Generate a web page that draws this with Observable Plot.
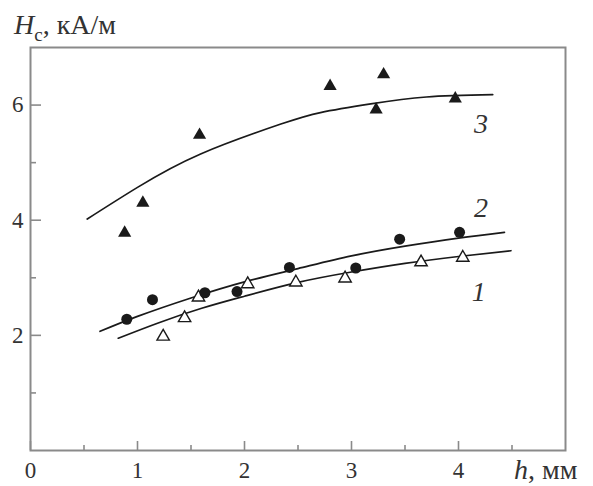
<!DOCTYPE html>
<html><head><meta charset="utf-8">
<script src="https://cdn.jsdelivr.net/npm/d3@7"></script>
<script src="https://cdn.jsdelivr.net/npm/@observablehq/plot@0.6"></script>
<style>body{margin:0;background:#fff} svg text{font-family:"Liberation Serif","Times New Roman",Times,"DejaVu Serif",serif;}</style>
</head><body><div id="chart"></div>
<script>
// tick values
const xTicks = [0, 1, 2, 3, 4];
const xMinor = [0.5, 1.5, 2.5, 3.5, 4.5];
const yTicks = [2, 4, 6];
const yMinor = [1, 3, 5];

// series 1: open triangles
const s1X = [1.24, 1.44, 1.57, 2.03, 2.48, 2.94, 3.65, 4.04];
const s1Y = [1.98, 2.30, 2.66, 2.89, 2.92, 2.99, 3.27, 3.35];
// series 2: filled circles
const s2X = [0.90, 1.14, 1.63, 1.93, 2.42, 3.04, 3.45, 4.01];
const s2Y = [2.28, 2.62, 2.74, 2.76, 3.18, 3.17, 3.67, 3.79];
// series 3: filled triangles
const s3X = [0.88, 1.05, 1.58, 2.80, 3.23, 3.30, 3.97];
const s3Y = [3.78, 4.30, 5.48, 6.33, 5.92, 6.53, 6.11];

// fitted curves
const c1X = [0.82, 1.2, 1.6, 2.0, 2.5, 3.0, 3.5, 4.0, 4.49];
const c1Y = [1.95, 2.22, 2.47, 2.68, 2.92, 3.10, 3.25, 3.37, 3.47];
const c2X = [0.65, 1.0, 1.5, 2.0, 2.5, 3.0, 3.5, 4.0, 4.43];
const c2Y = [2.07, 2.33, 2.65, 2.93, 3.16, 3.38, 3.55, 3.69, 3.79];
const c3X = [0.53, 1.0, 1.59, 2.34, 2.71, 3.18, 3.7, 4.32];
const c3Y = [4.02, 4.57, 5.15, 5.67, 5.87, 6.02, 6.14, 6.18];

// curve labels
const labelText = ["1", "2", "3"];
const labelX = [4.19, 4.21, 4.21];
const labelY = [2.76, 4.22, 5.67];

const W = 593, H = 486, mL = 30, mR = 28, mT = 47, mB = 36;
const innerH = H - mT - mB, innerW = W - mL - mR;
const axisGray = "#8a8a8a";
const ink = "#1a1a1a";
const serif = "'Liberation Serif', 'Times New Roman', Times, 'DejaVu Serif', serif";

const pts = (xs, ys) => xs.map((x, i) => ({x, y: ys[i]}));
const labels = labelText.map((t, i) => ({t, x: labelX[i], y: labelY[i]}));

const plot = Plot.plot({
  width: W, height: H,
  marginLeft: mL, marginRight: mR, marginTop: mT, marginBottom: mB,
  x: {domain: [0, 5], label: null},
  y: {domain: [0, 7], label: null},
  style: {fontFamily: serif, fontSize: "23px", color: "#333", background: "#fff"},
  marks: [
    Plot.tickX(xTicks, {x: d => d, insetTop: innerH - 9, stroke: axisGray, strokeWidth: 1.6}),
    Plot.tickX(xMinor, {x: d => d, insetTop: innerH - 5, stroke: axisGray, strokeWidth: 1.6}),
    Plot.tickY(yTicks, {y: d => d, insetRight: innerW - 11, stroke: axisGray, strokeWidth: 1.6}),
    Plot.tickY(yMinor, {y: d => d, insetRight: innerW - 6, stroke: axisGray, strokeWidth: 1.6}),
    Plot.axisX(xTicks, {tickSize: 0, tickPadding: 11, label: null, tickFormat: d => String(d), fill: "#333", fontSize: 23, fontFamily: serif}),
    Plot.axisY(yTicks, {tickSize: 0, tickPadding: 7, label: null, tickFormat: d => String(d), fill: "#333", fontSize: 23, fontFamily: serif}),
    Plot.frame({stroke: axisGray, strokeWidth: 2}),
    Plot.line(pts(c1X, c1Y), {x: "x", y: "y", curve: "natural", stroke: ink, strokeWidth: 1.7}),
    Plot.line(pts(c2X, c2Y), {x: "x", y: "y", curve: "natural", stroke: ink, strokeWidth: 1.7}),
    Plot.line(pts(c3X, c3Y), {x: "x", y: "y", curve: "natural", stroke: ink, strokeWidth: 1.7}),
    Plot.dot(pts(s1X, s1Y), {x: "x", y: "y", symbol: "triangle", r: 4.6, fill: "#fff", stroke: ink, strokeWidth: 1.4}),
    Plot.dot(pts(s2X, s2Y), {x: "x", y: "y", symbol: "circle", r: 5.5, fill: ink, stroke: "none"}),
    Plot.dot(pts(s3X, s3Y), {x: "x", y: "y", symbol: "triangle", r: 4.9, fill: ink, stroke: "none"}),
    Plot.text(labels, {x: "x", y: "y", text: "t", fontStyle: "italic", fontSize: 28, fontFamily: serif, fill: "#333", textAnchor: "middle"})
  ]
});

const svg = d3.select(plot);
const title = svg.append("text").attr("x", 14).attr("y", 34)
  .attr("text-anchor", "start")
  .attr("fill", "#333").attr("font-size", 28)
  .attr("font-family", serif);
title.append("tspan").attr("font-style", "italic").text("H");
title.append("tspan").attr("font-size", 19).attr("dy", 7).text("c");
title.append("tspan").attr("dy", -7).text(", кА/м");

const xl = svg.append("text").attr("x", 514).attr("y", 479)
  .attr("text-anchor", "start")
  .attr("fill", "#333").attr("font-size", 28)
  .attr("font-family", serif);
xl.append("tspan").attr("font-style", "italic").text("h");
xl.append("tspan").text(", мм");

document.getElementById("chart").appendChild(plot);
</script>
</body></html>
